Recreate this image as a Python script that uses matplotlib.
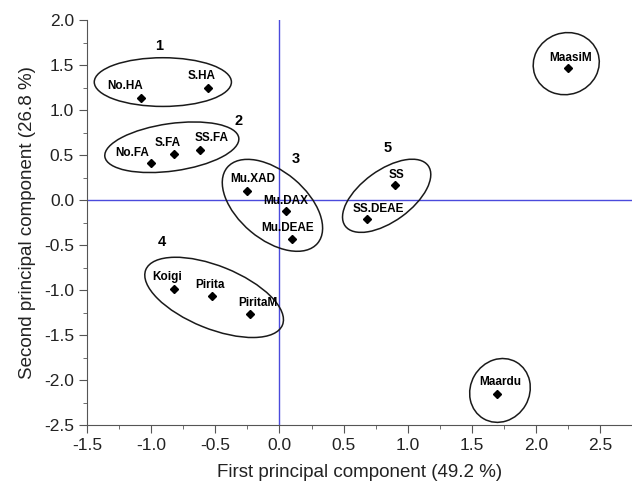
import matplotlib
matplotlib.use('Agg')
import matplotlib.pyplot as plt
from matplotlib.patches import Ellipse
from matplotlib.ticker import MultipleLocator
from matplotlib.transforms import Affine2D

plt.rcParams['font.family'] = ['Liberation Sans', 'DejaVu Sans']
plt.rcParams['axes.unicode_minus'] = False

# samples (PC1, PC2)
names = ['No.HA', 'S.HA', 'No.FA', 'S.FA', 'SS.FA', 'Mu.XAD', 'Mu.DAX', 'Mu.DEAE',
         'SS', 'SS.DEAE', 'Koigi', 'Pirita', 'PiritaM', 'MaasiM', 'Maardu']
pc1 = [-1.08, -0.56, -1.00, -0.82, -0.62, -0.25, 0.05, 0.10,
       0.90, 0.68, -0.82, -0.53, -0.23, 2.25, 1.70]
pc2 = [1.14, 1.25, 0.41, 0.52, 0.56, 0.10, -0.12, -0.43,
       0.17, -0.21, -0.99, -1.06, -1.27, 1.47, -2.16]
# label offsets in pixels
lab_dx = [-16, -6, -19, -7, 12, 5, 0, -5, 2, 12, -7, -2, 8, 3, 3]
lab_dy = [12, 12, 10, 11, 12, 12, 10, 11, 10, 10, 12, 11, 11, 10, 12]

# cluster ellipses: centre (data), width/height in x units, angle (deg)
ell_cx = [-0.91, -0.84, -0.055, -0.51, 0.836, 2.237, 1.72]
ell_cy = [1.315, 0.59, -0.056, -1.08, 0.05, 1.52, -2.115]
ell_w = [1.07, 1.055, 0.92, 1.15, 0.80, 0.52, 0.51]
ell_h = [0.38, 0.37, 0.53, 0.49, 0.40, 0.48, 0.46]
ell_ang = [0, 8, -40, -22, 36, 20, 60]

group_lab = ['1', '2', '3', '4', '5']
group_x = [-0.94, -0.32, 0.125, -0.916, 0.846]
group_y = [1.72, 0.88, 0.456, -0.463, 0.585]

fig = plt.figure(figsize=(6.32, 4.88), dpi=100)
ax = fig.add_axes([0.138, 0.129, 0.862, 0.829])
ax.set_xlim(-1.5, 2.75)
ax.set_ylim(-2.5, 2.0)

ax.axvline(0, color='#4a4adc', lw=1.0, zorder=1)
ax.axhline(0, color='#4a4adc', lw=1.0, zorder=1)

ax.plot(pc1, pc2, 'D', color='black', markersize=4.5, zorder=3)
for n, x, y, dx, dy in zip(names, pc1, pc2, lab_dx, lab_dy):
    ax.annotate(n, (x, y), xytext=(dx, dy), textcoords='offset pixels',
                ha='center', va='center', fontsize=8.5, fontweight='bold')

# keep ellipses round on screen: y scaled by px-per-unit ratio
fig.canvas.draw()
p0 = ax.transData.transform((0, 0))
p1 = ax.transData.transform((1, 1))
ratio = (p1[0] - p0[0]) / (p1[1] - p0[1])
for cx, cy, w, h, a in zip(ell_cx, ell_cy, ell_w, ell_h, ell_ang):
    e = Ellipse((0, 0), w, h, angle=a, fill=False, ec='#1a1a1a', lw=1.1)
    e.set_transform(Affine2D().scale(1, ratio).translate(cx, cy) + ax.transData)
    ax.add_patch(e)

for t, x, y in zip(group_lab, group_x, group_y):
    ax.text(x, y, t, ha='center', va='center', fontsize=10.5, fontweight='bold')

for s in ['top', 'right']:
    ax.spines[s].set_visible(False)
for s in ['left', 'bottom']:
    ax.spines[s].set_color('#555555')
ax.xaxis.set_major_locator(MultipleLocator(0.5))
ax.xaxis.set_minor_locator(MultipleLocator(0.25))
ax.yaxis.set_major_locator(MultipleLocator(0.5))
ax.yaxis.set_minor_locator(MultipleLocator(0.25))
ax.tick_params(which='major', length=6, color='#555555', labelsize=12.5, labelcolor='#222222')
ax.tick_params(which='minor', length=3, color='#555555')
ax.set_xlabel('First principal component (49.2 %)', fontsize=13.5, color='#222222', labelpad=8)
ax.set_ylabel('Second principal component (26.8 %)', fontsize=13.5, color='#222222', labelpad=6)

fig.savefig('out.png', dpi=100)
